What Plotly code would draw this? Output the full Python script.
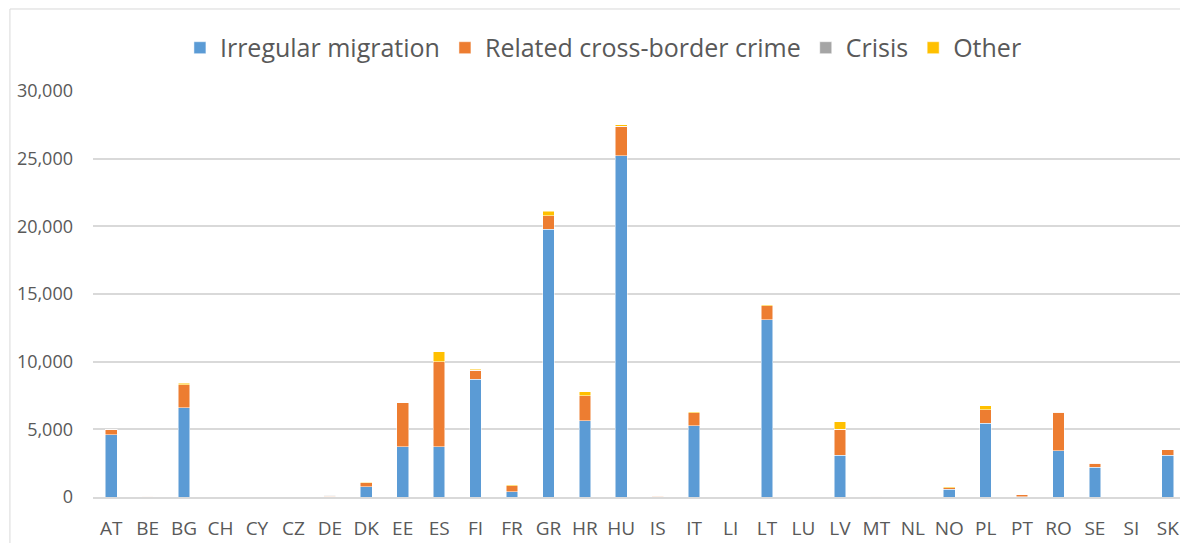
import plotly.graph_objects as go

countries = ["AT", "BE", "BG", "CH", "CY", "CZ", "DE", "DK", "EE", "ES",
             "FI", "FR", "GR", "HR", "HU", "IS", "IT", "LI", "LT", "LU",
             "LV", "MT", "NL", "NO", "PL", "PT", "RO", "SE", "SI", "SK"]

irregular_migration = [4600, 10, 6600, 0, 0, 0, 30, 750, 3700, 3700,
                       8700, 380, 19800, 5650, 25200, 20, 5250, 0, 13100, 0,
                       3100, 10, 40, 580, 5450, 20, 3400, 2200, 0, 3100]
cross_border_crime = [400, 40, 1700, 0, 0, 0, 40, 320, 3250, 6300,
                      650, 450, 1000, 1850, 2200, 20, 980, 0, 1050, 0,
                      1900, 40, 10, 120, 1000, 130, 2850, 300, 0, 380]
crisis = [0, 0, 0, 0, 0, 0, 50, 0, 0, 0,
          0, 0, 0, 0, 0, 40, 0, 0, 0, 0,
          0, 0, 0, 0, 0, 0, 0, 0, 0, 0]
other = [20, 30, 120, 0, 0, 0, 10, 30, 20, 730,
         100, 60, 330, 280, 100, 10, 60, 0, 60, 0,
         560, 20, 10, 50, 300, 20, 50, 30, 0, 30]

series = [
    ("Irregular migration", irregular_migration, "#5B9BD5"),
    ("Related cross-border crime", cross_border_crime, "#ED7D31"),
    ("Crisis", crisis, "#A5A5A5"),
    ("Other", other, "#FFC000"),
]

fig = go.Figure()
for name, vals, color in series:
    fig.add_trace(go.Bar(
        x=countries, y=vals, name=name,
        marker=dict(color=color, line=dict(color="white", width=0.5)),
    ))

# page body has an 8px margin, so the figure is sized to fit inside the window
fig.update_layout(
    barmode="stack",
    bargap=0.68,
    width=1180,
    height=535,
    margin=dict(l=85, r=2, t=83, b=46),
    paper_bgcolor="white",
    plot_bgcolor="white",
    font=dict(family="Open Sans, sans-serif", color="#595959"),
    legend=dict(
        orientation="h", x=0.467, xanchor="center", y=1.106, yanchor="middle",
        font=dict(size=25, color="#595959"), itemwidth=30,
        traceorder="normal",
    ),
    shapes=[dict(
        type="rect", xref="paper", yref="paper",
        x0=-0.076, x1=1.02, y0=-0.3, y1=1.202,
        line=dict(color="#D9D9D9", width=1), layer="below",
    )],
)

fig.update_yaxes(
    range=[0, 30000], dtick=5000, tickformat=",",
    showgrid=True, gridcolor="#D9D9D9", gridwidth=1.5,
    zeroline=False, showline=False, automargin=False,
    tickfont=dict(size=18, color="#595959"), ticks="",
    ticklabelstandoff=19,
)
fig.update_xaxes(
    showline=True, linecolor="#D9D9D9", linewidth=1.5, automargin=False,
    tickfont=dict(size=19, color="#595959"), ticks="",
    ticklabelstandoff=13,
)

fig.write_html("out.html")
